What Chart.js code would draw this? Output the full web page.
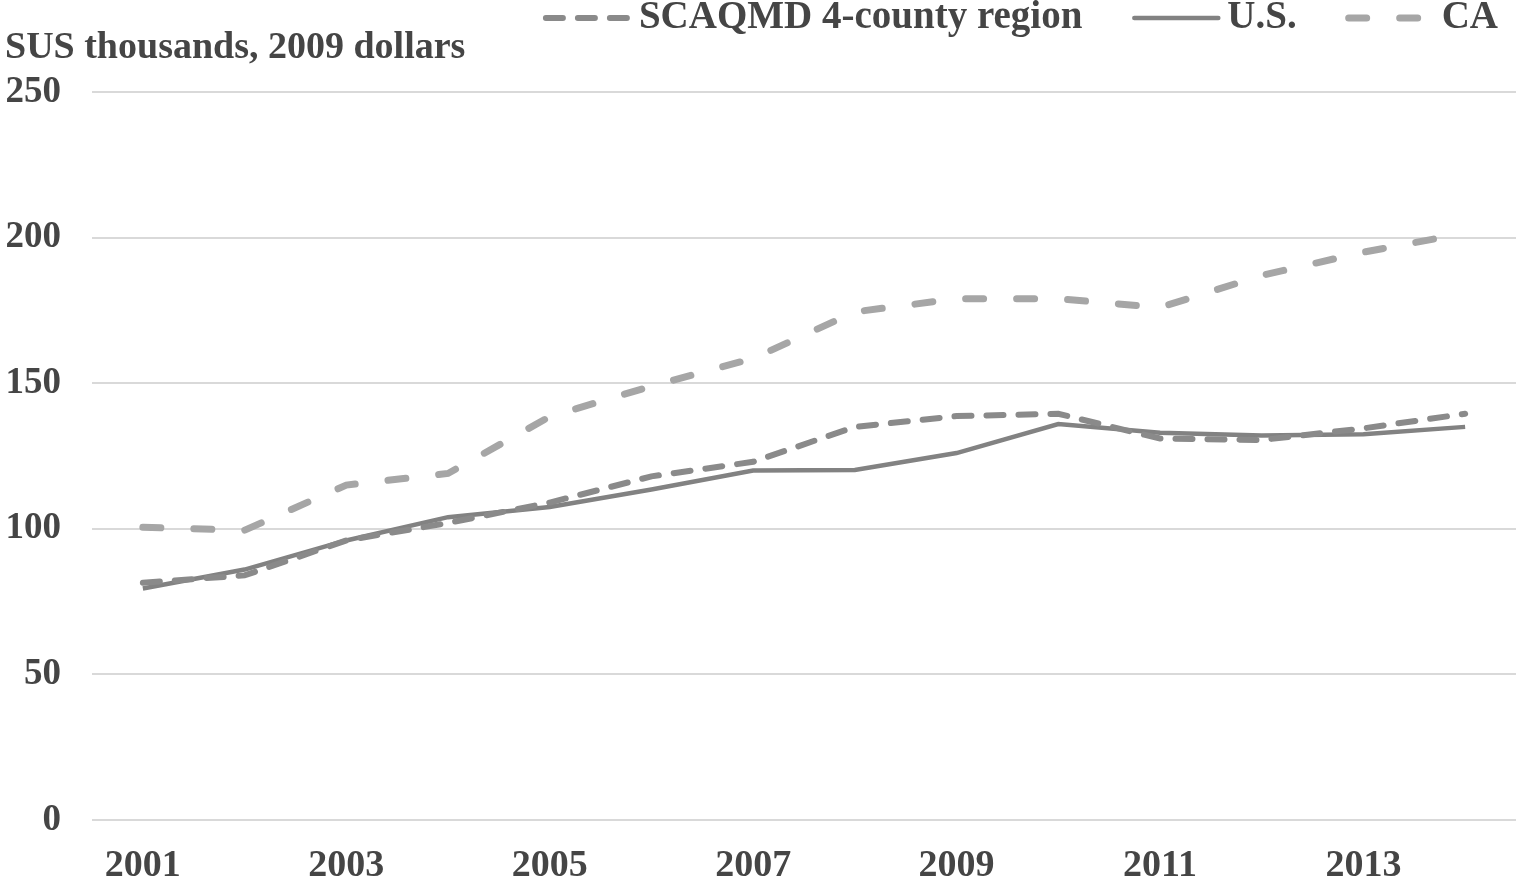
<!DOCTYPE html>
<html>
<head>
<meta charset="utf-8">
<script src="https://cdn.jsdelivr.net/npm/chart.js@4.4.1/dist/chart.umd.min.js"></script>
<style>
body { margin: 0; background: #fff; }
#wrap { width: 1518px; height: 885px; position: relative; }
</style>
</head>
<body>
<div id="wrap"><canvas id="grafica"></canvas></div>
<script>
// DATOS

const years = ['2001','2002','2003','2004','2005','2006','2007','2008','2009','2010','2011','2012','2013','2014'];
const scaqmd = [81.5, 84, 96, 102, 109, 118, 123, 135, 138.7, 139.5, 131, 130.5, 134.5, 139.5];
const us = [79.5, 86, 96, 104, 107.5, 113.5, 120, 120.2, 126, 136, 133, 132, 132.5, 135];
const ca = [100.5, 99.5, 115, 119, 138.5, 149, 158.5, 174.5, 179, 179, 176, 187, 195, 201.5];
const yTicks = [0, 50, 100, 150, 200, 250];
const yTitle = 'SUS thousands, 2009 dollars';

const FONT = '"Liberation Serif", "Times New Roman", serif';
const TEXT = '#454545';


// LEYENDA Y TITULO DIBUJADOS A MANO

const leyenda = {
  id: 'leyenda',
  afterDraw(chart) {
    const ctx = chart.ctx;
    ctx.save();
    ctx.font = 'bold 38px ' + FONT;
    ctx.fillStyle = TEXT;
    ctx.textBaseline = 'middle';
    ctx.fillText(yTitle, 5, 48);

    ctx.font = 'bold 39px ' + FONT;
    let x = 1498;
    const y = 18;
    chart.data.datasets.slice().reverse().forEach(ds => {
      const w = ctx.measureText(ds.label).width;
      x -= w;
      ctx.fillStyle = TEXT;
      ctx.fillText(ds.label, x, y);
      x -= 9;
      ctx.beginPath();
      ctx.setLineDash(ds.borderDash || []);
      ctx.lineWidth = ds.borderWidth;
      ctx.lineCap = 'round';
      ctx.strokeStyle = ds.borderColor;
      ctx.moveTo(x - 84, y);
      ctx.lineTo(x, y);
      ctx.stroke();
      x -= 84 + 52;
    });
    ctx.restore();
  }
};


// GRAFICA

const ctx = document.getElementById('grafica');

new Chart(ctx, {
  type: 'line',
  data: {
    labels: years,
    datasets: [
      {
        label: 'SCAQMD 4-county region',
        data: scaqmd,
        borderColor: '#8a8a8a',
        borderWidth: 6,
        borderDash: [17, 15],
        borderCapStyle: 'round',
        pointRadius: 0,
        tension: 0
      },
      {
        label: 'U.S.',
        data: us,
        borderColor: '#828282',
        borderWidth: 4.5,
        pointRadius: 0,
        tension: 0
      },
      {
        label: 'CA',
        data: ca,
        borderColor: '#a6a6a6',
        borderWidth: 7,
        borderDash: [18, 33],
        borderCapStyle: 'round',
        pointRadius: 0,
        tension: 0
      }
    ]
  },
  options: {
    responsive: true,
    maintainAspectRatio: false,
    animation: false,
    layout: { padding: { top: 92, right: 2, left: 0, bottom: 0 } },
    plugins: {
      legend: { display: false },
      title: { display: false },
      tooltip: { enabled: false }
    },
    scales: {
      x: {
        offset: true,
        grid: { display: false },
        border: { display: false },
        ticks: {
          autoSkip: false,
          maxRotation: 0,
          padding: 15,
          color: TEXT,
          font: { family: FONT, size: 38, weight: 'bold' },
          callback: (v, i) => (i % 2 === 0 ? years[i] : '')
        },
        afterFit: s => { s.height = 65; }
      },
      y: {
        min: 0,
        max: 250,
        afterBuildTicks: s => { s.ticks = yTicks.map(v => ({ value: v })); },
        grid: { color: '#d9d9d9', lineWidth: 2, drawTicks: false },
        border: { display: false },
        ticks: {
          padding: 31,
          color: TEXT,
          font: { family: FONT, size: 37, weight: 'bold' }
        },
        afterFit: s => { s.width = 92; }
      }
    }
  },
  plugins: [leyenda]
});
</script>
</body>
</html>
